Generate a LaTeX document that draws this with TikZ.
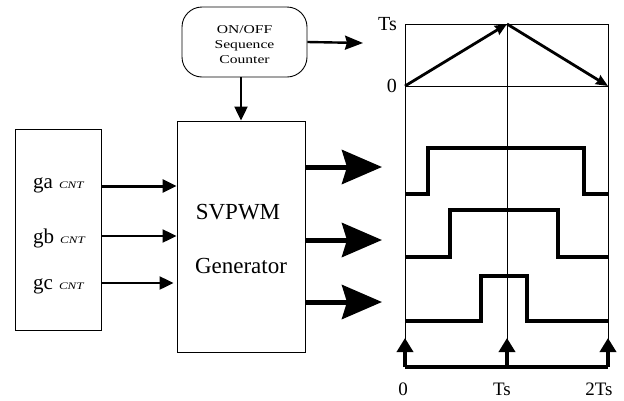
\documentclass[tikz,border=0pt]{standalone}
\usepackage{fontspec}
\usepackage{graphicx}
\setmainfont{Liberation Serif}
\usetikzlibrary{arrows.meta}
\newcommand\cntfont{\fontsize{10}{10}\selectfont\itshape}
\newcommand\wide[1]{\scalebox{1.3}[1]{#1}}
\begin{document}
\begin{tikzpicture}[x=1pt,y=-1pt,
  boxline/.style={draw, line width=0.9pt, inner sep=0pt},
  inarrow/.style={line width=2.2pt, -{Triangle[length=14pt,width=13pt]}},
  outarrow/.style={line width=5pt, -{Stealth[length=40pt,width=34pt,inset=5pt]}},
  midarrow/.style={line width=2.4pt, -{Stealth[length=18pt,width=14pt,inset=2pt]}},
  vecarrow/.style={line width=2.8pt, -{Stealth[length=12pt,width=10pt,inset=1pt]}},
  uparrow/.style={line width=4pt, -{Triangle[length=14pt,width=16pt]}},
  thin/.style={line width=0.8pt},
  wave/.style={line width=3.3pt, line join=miter},
  lbl/.style={font=\fontsize{20}{20}\selectfont, inner sep=0pt}
]
\useasboundingbox (0,0) rectangle (624,400);

% blocks
\node[boxline, minimum width=86pt, minimum height=201pt] (inbox) at (58,229.5) {};
\node[boxline, minimum width=128pt, minimum height=231pt] (svpwm) at (241,236.5) {};
\node[boxline, rounded corners=20pt, minimum width=125pt, minimum height=70pt] (counter) at (244.5,42) {};
\node[align=center, inner sep=0pt, font=\fontsize{12}{15}\selectfont] (ctext) at (244.5,45)
      {\wide{ON/OFF}\\\wide{Sequence}\\\wide{Counter}};

\node[lbl, font=\fontsize{23}{23}\selectfont] (tsv) at (238,212) {SVPWM};
\node[lbl, font=\fontsize{23}{23}\selectfont] (tgen) at (241,266) {Generator};

\node[lbl, anchor=base west, font=\fontsize{21}{21}\selectfont] (la) at (33,188) {ga\hspace{6pt}{\cntfont\wide{CNT}}};
\node[lbl, anchor=base west, font=\fontsize{21}{21}\selectfont] (lb) at (33,243) {gb\hspace{6pt}{\cntfont\wide{CNT}}};
\node[lbl, anchor=base west, font=\fontsize{21}{21}\selectfont] (lc) at (33,289) {gc\hspace{6pt}{\cntfont\wide{CNT}}};

% input arrows
\coordinate (ya) at (0,186);
\coordinate (yb) at (0,236);
\coordinate (yc) at (0,283);
\draw[inarrow, line width=3pt] (inbox.east |- ya) -- (svpwm.west |- ya);
\draw[inarrow] (inbox.east |- yb) -- (svpwm.west |- yb);
\draw[inarrow] (inbox.east |- yc) -- ([xshift=-3pt]svpwm.west |- yc);

% counter arrows
\coordinate (cr) at (363,43);
\draw[midarrow] (counter.east) -- (cr);
\draw[inarrow] (counter.south -| svpwm.north) -- (svpwm.north);

% output arrows
\coordinate (o1) at (382,167);
\coordinate (o2) at (382,240);
\coordinate (o3) at (382,302);
\draw[outarrow] (svpwm.east |- o1) -- (o1);
\draw[outarrow] (svpwm.east |- o2) -- (o2);
\draw[outarrow] (svpwm.east |- o3) -- (o3);

% timing frame
\coordinate (tl) at (405,24);
\coordinate (tm) at (507,24);
\coordinate (tr) at (608,24);
\coordinate (zl) at (405,86);
\coordinate (zr) at (608,86);
\coordinate (bl) at (405,367);
\coordinate (bm) at (507,367);
\coordinate (br) at (608,367);
\draw[thin] (tl) -- (tr);
\draw[thin] (zl) -- (zr);
\draw[thin] (tl) -- (bl);
\draw[thin] (tm) -- (bm);
\draw[thin] (tr) -- (br);

% triangle (counter)
\draw[vecarrow] (zl) -- (tm);
\draw[vecarrow] (tm) -- (zr);
\node[lbl, anchor=base east] (lts) at (397,30) {Ts};
\node[lbl, anchor=east] (l0) at (397,86) {0};

% waveforms
\draw[wave] (405,194) -- (428,194) -- (428,148) -- (584,148) -- (584,194) -- (608,194);
\draw[wave] (405,257) -- (450,257) -- (450,210) -- (558,210) -- (558,257) -- (608,257);
\draw[wave] (405,321) -- (481,321) -- (481,276) -- (527,276) -- (527,321) -- (608,321);

% bottom axis
\draw[line width=3.2pt] (bl) -- (br);
\draw[uparrow] (bl) -- ([yshift=29pt]bl);
\draw[uparrow] (bm) -- ([yshift=29pt]bm);
\draw[uparrow] (br) -- ([yshift=29pt]br);
\node[lbl, anchor=base, font=\fontsize{19}{19}\selectfont] (b0) at (403,395) {0};
\node[lbl, anchor=base, font=\fontsize{19}{19}\selectfont] (bts) at (502,395) {Ts};
\node[lbl, anchor=base, font=\fontsize{19}{19}\selectfont] (b2ts) at (599,395) {2Ts};
\end{tikzpicture}
\end{document}
